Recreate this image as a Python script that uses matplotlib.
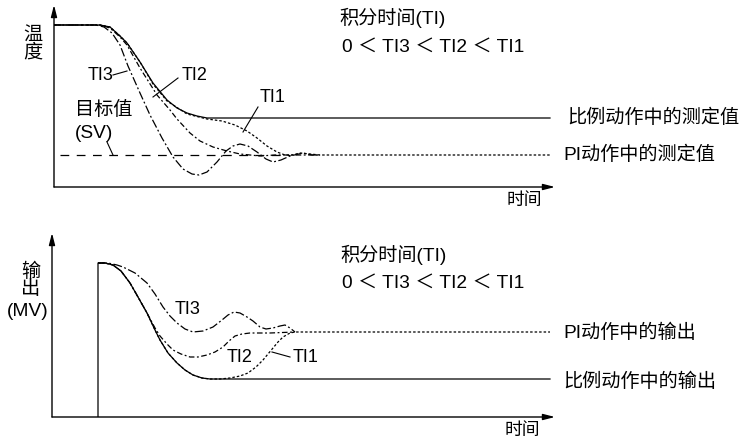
import numpy as np
import matplotlib
matplotlib.use("Agg")
import matplotlib.pyplot as plt

plt.rcParams['font.family'] = ['Liberation Sans', 'Noto Sans CJK SC', 'DejaVu Sans']

# ---- top panel: temperature (measured value) ----
t_p = [0, 46, 56, 66, 73, 86, 99, 113, 123, 133, 143, 153, 166, 496]
v_p = [162, 162, 160, 151, 144, 125, 104, 87, 79, 74, 71, 69, 69, 69]

t_ti3 = [0, 42, 50, 58, 66, 74, 86, 96, 108, 119, 129, 138, 145, 153, 163, 172, 179, 186,
         194, 203, 212, 219, 227, 236, 249, 258, 266]
v_ti3 = [162, 162, 160, 154, 142, 121, 94, 72, 49, 30, 18, 13, 12, 15, 25, 36, 41, 43,
         41, 35, 28, 25, 27, 31, 34, 32, 32]

t_ti2 = [0, 46, 56, 66, 73, 86, 103, 116, 123, 136, 146, 159, 173, 186, 196, 206, 221, 266]
v_ti2 = [162, 162, 159, 150, 142, 119, 92, 77, 68, 54, 46, 40, 36, 33, 32, 31, 32, 32]

t_ti1 = [0, 46, 56, 66, 73, 86, 99, 113, 133, 153, 168, 181, 193, 203, 213, 223, 231, 238,
         246, 256, 266, 496]
v_ti1 = [162, 162, 160, 151, 144, 125, 103, 86, 73, 68, 66, 62, 56, 49, 41, 35, 32, 32,
         34, 33, 32, 32]

sv_t = [6, 236]
sv_v = 32

# ---- bottom panel: output (MV) ----
mt_p = [46, 46, 53, 61, 69, 78, 86, 95, 103, 108, 116, 125, 133, 141, 150, 158, 498]
mv_p = [0, 154, 154, 152, 146, 134, 120, 104, 87, 77, 64, 54, 47, 42, 39, 38, 38]

mt_ti3 = [46, 56, 65, 71, 83, 95, 103, 111, 118, 125, 133, 141, 151, 161, 170, 176, 182,
          188, 195, 201, 208, 214, 221, 228, 233, 238, 243]
mv_ti3 = [154, 154, 152, 150, 144, 134, 123, 110, 101, 94, 88, 85, 86, 90, 97, 102, 105,
          104, 100, 96, 90, 88, 89, 91, 92, 89, 85]

mt_ti2 = [46, 53, 61, 69, 78, 86, 95, 103, 108, 115, 121, 129, 138, 146, 155, 163, 171,
          177, 183, 190, 198, 218, 243]
mv_ti2 = [154, 154, 152, 146, 134, 120, 104, 89, 81, 73, 67, 63, 60, 60, 62, 65, 70,
          76, 81, 83, 84, 84, 85]

mt_ti1 = [46, 53, 61, 69, 78, 86, 95, 103, 108, 116, 125, 133, 141, 150, 158, 168, 178,
          188, 196, 204, 211, 216, 221, 226, 231, 238, 243, 498]
mv_ti1 = [154, 154, 152, 146, 134, 120, 104, 87, 77, 64, 54, 47, 42, 39, 38, 38, 39,
          41, 44, 50, 57, 63, 69, 75, 80, 84, 85, 85]

W, H = 741, 445
fig = plt.figure(figsize=(W / 100, H / 100), dpi=100)

def make_ax(x0, y0, x1, y1):
    # pixel box -> figure fraction
    ax = fig.add_axes([x0 / W, 1 - y0 / H, (x1 - x0) / W, (y0 - y1) / H])
    ax.axis('off')
    arr = dict(arrowstyle='-|>,head_length=0.7,head_width=0.18', color='black', lw=1.0,
               shrinkA=0, shrinkB=0)
    ax.annotate('', xy=(1, 0), xytext=(0, 0), xycoords='axes fraction', arrowprops=arr)
    ax.annotate('', xy=(0, 1), xytext=(0, 0), xycoords='axes fraction', arrowprops=arr)
    return ax

lw = 0.9
st_ti3 = (0, (7, 2, 1.5, 2))
st_ti2 = (0, (4.5, 2, 1.5, 2))
st_ti1 = (0, (2, 1.6))
fs = 13.8
fs_ti = 13
fs_time = 12.8

ax1 = make_ax(54, 187, 555, 5)
ax1.set_xlim(0, 501)
ax1.set_ylim(0, 182)
ax1.plot(sv_t, [sv_v, sv_v], color='black', lw=lw, ls=(0, (7, 6)))
ax1.plot(t_p, v_p, color='black', lw=lw)
ax1.plot(t_ti1, v_ti1, color='black', lw=lw, ls=st_ti1)
ax1.plot(t_ti2, v_ti2, color='black', lw=lw, ls=st_ti2)
ax1.plot(t_ti3, v_ti3, color='black', lw=lw, ls=st_ti3)

txt = dict(fontsize=fs, va='center', clip_on=False)
ax1.text(-21, 143, '温\n度', ha='center', linespacing=0.95, **txt)
ax1.text(285, 169, '积分时间(TI)', ha='left', **txt)
ax1.text(288, 140, '0 ＜ TI3 ＜ TI2 ＜ TI1', ha='left', **txt)
ax1.text(34, 112, 'TI3', ha='left', fontsize=fs_ti, va='center')
ax1.plot([59, 73], [112, 116], color='black', lw=0.8)
ax1.text(128, 112, 'TI2', ha='left', fontsize=fs_ti, va='center')
ax1.plot([124, 99], [109, 90], color='black', lw=0.8)
ax1.text(206, 89, 'TI1', ha='left', fontsize=fs_ti, va='center')
ax1.plot([204, 189], [80, 55], color='black', lw=0.8)
ax1.text(21, 77, '目标值', ha='left', **txt)
ax1.text(21, 54, '(SV)', ha='left', **txt)
ax1.plot([53, 59], [45, 32], color='black', lw=0.8)
ax1.text(513, 69, '比例动作中的测定值', ha='left', **txt)
ax1.text(509, 32, 'PI动作中的测定值', ha='left', **txt)
ax1.text(453, -13, '时间', ha='left', fontsize=fs_time, va='center', clip_on=False)

ax2 = make_ax(52, 417, 555, 233)
ax2.set_xlim(0, 503)
ax2.set_ylim(0, 184)
ax2.plot(mt_p, mv_p, color='black', lw=lw)
ax2.plot(mt_ti1, mv_ti1, color='black', lw=lw, ls=st_ti1)
ax2.plot(mt_ti2, mv_ti2, color='black', lw=lw, ls=st_ti2)
ax2.plot(mt_ti3, mv_ti3, color='black', lw=lw, ls=st_ti3)

ax2.text(-21, 136.5, '输\n出', ha='center', linespacing=0.95, **txt)
ax2.text(-24, 105, '(MV)', ha='center', **txt)
ax2.text(288, 162, '积分时间(TI)', ha='left', **txt)
ax2.text(290, 134, '0 ＜ TI3 ＜ TI2 ＜ TI1', ha='left', **txt)
ax2.text(123, 107, 'TI3', ha='left', fontsize=fs_ti, va='center')
ax2.text(175, 59, 'TI2', ha='left', fontsize=fs_ti, va='center')
ax2.text(241, 59, 'TI1', ha='left', fontsize=fs_ti, va='center')
ax2.plot([238, 220], [60, 65], color='black', lw=0.8)
ax2.text(511, 84, 'PI动作中的输出', ha='left', **txt)
ax2.text(511, 35, '比例动作中的输出', ha='left', **txt)
ax2.text(453, -13, '时间', ha='left', fontsize=fs_time, va='center', clip_on=False)

fig.savefig('out.png', dpi=100, facecolor='white')
